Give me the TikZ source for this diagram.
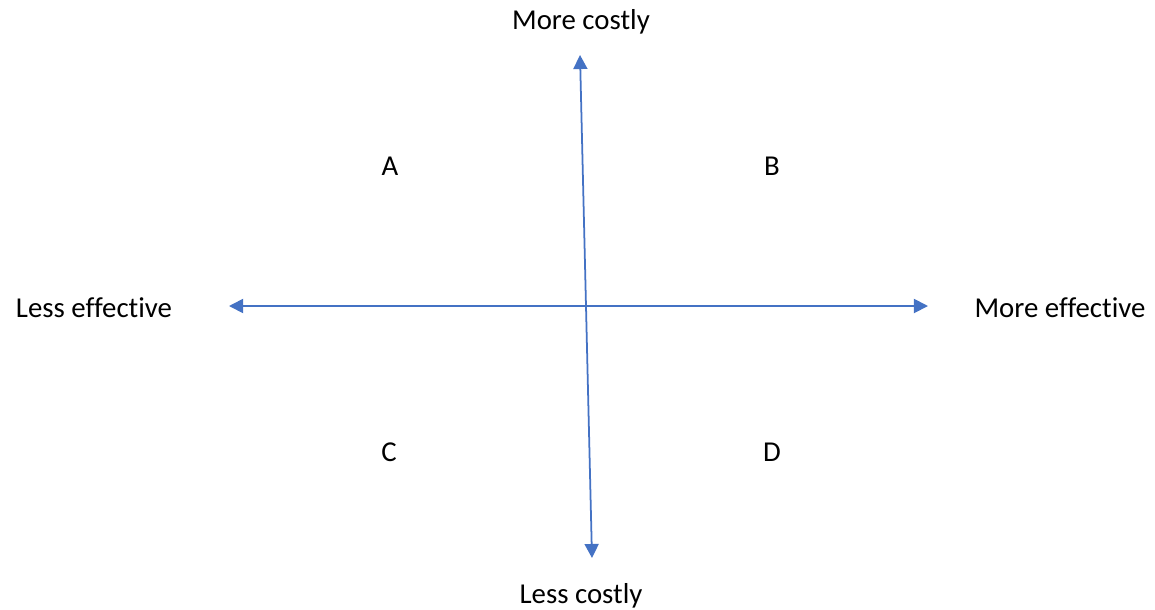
\documentclass[tikz,border=0pt]{standalone}
\usepackage{fontspec}
\setmainfont[Ligatures={NoCommon}]{Carlito}
\usetikzlibrary{arrows.meta}
\definecolor{axisblue}{HTML}{4472C4}
\tikzset{
    axis/.style={draw=axisblue, line width=1pt,
        {Triangle[length=8pt,width=8pt]}-{Triangle[length=8pt,width=8pt]}},
    lbl/.style={font=\fontsize{16.4}{20}\selectfont, text=black, inner sep=0pt}
}
\begin{document}
\begin{tikzpicture}[x=0.02cm,y=-0.02cm]

            \useasboundingbox (0,0) rectangle (1155,609);

            % arrow ends
            \coordinate (top) at (580,55);
            \coordinate (bottom) at (592,558);
            \coordinate (left) at (229,306);
            \coordinate (right) at (928,306);

            % axes
            \draw[axis] (bottom) -- (top);
            \draw[axis] (left) -- (right);

            % axis labels
            \node[lbl] (morecost) at (581,22) {More costly};
            \node[lbl] (lesscost) at (581,596) {Less costly};
            \node[lbl] (lesseff) at (94,308) {Less effective};
            \node[lbl] (moreeff) at (1060,308) {More effective};

            % quadrants
            \node[lbl] (qa) at (390,166) {A};
            \node[lbl] (qb) at (772,166) {B};
            \node[lbl] (qc) at (389,452) {C};
            \node[lbl] (qd) at (772,452) {D};

\end{tikzpicture}
\end{document}
